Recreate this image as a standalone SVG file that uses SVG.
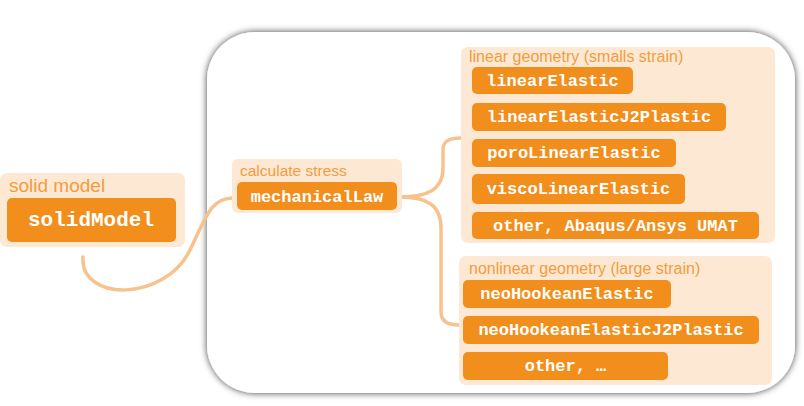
<svg xmlns="http://www.w3.org/2000/svg" width="804" height="406" viewBox="0 0 804 406">
<defs>
<filter id="sh" x="-10%" y="-10%" width="120%" height="120%">
<feDropShadow dx="0" dy="0" stdDeviation="3.5" flood-color="#000" flood-opacity="0.75"/>
</filter>
<style>
.grp{fill:#FDE9D3}
.box{fill:#F28E1C}
.lbl{font-family:"Liberation Sans",Arial,sans-serif;fill:#F39C3E}
.code{font-family:"Liberation Mono","Courier New",monospace;font-weight:bold;fill:#FFFFFF;text-anchor:middle}
.con{fill:none;stroke:#F7C28E;stroke-width:3.5;stroke-linecap:round}
</style>
</defs>
<rect width="804" height="406" fill="#FFFFFF"/>
<rect id="frame" x="207" y="32" width="588" height="361" rx="48" ry="48" fill="#FFFFFF" filter="url(#sh)"/>
<g id="connectors">
<path class="con" d="M83,257 C80,302 165,302 190,250 C208,212 212,199 232,198"/>
<path class="con" d="M400,197 C427,197 443,190 443,168 L443,150 C443,141 449,138 461,138"/>
<path class="con" d="M400,197 C427,197 441,205 441,228 L441,312 C441,321 447,325 459,325"/>
</g>
<g id="solid-model">
<rect class="grp" x="0" y="173" width="185" height="74" rx="7"/>
<text class="lbl" x="9" y="192" font-size="19">solid model</text>
<rect class="box" x="7" y="198" width="169" height="44" rx="5"/>
<text class="code" x="91" y="226" font-size="21">solidModel</text>
</g>
<g id="calculate-stress">
<rect class="grp" x="232" y="159" width="170" height="54" rx="6"/>
<text class="lbl" x="240" y="176" font-size="15.5">calculate stress</text>
<rect class="box" x="237" y="182" width="160" height="28" rx="5"/>
<text class="code" x="317" y="202" font-size="17">mechanicalLaw</text>
</g>
<g id="linear-geometry">
<rect class="grp" x="461" y="47" width="314" height="196" rx="7"/>
<text class="lbl" x="469" y="62" font-size="16">linear geometry (smalls strain)</text>
<rect class="box" x="472" y="67" width="161" height="27" rx="5"/>
<text class="code" x="552.5" y="86" font-size="17">linearElastic</text>
<rect class="box" x="472" y="103" width="254" height="28" rx="5"/>
<text class="code" x="599" y="122" font-size="17">linearElasticJ2Plastic</text>
<rect class="box" x="472" y="139" width="204" height="28" rx="5"/>
<text class="code" x="574" y="158" font-size="17">poroLinearElastic</text>
<rect class="box" x="472" y="174" width="213" height="30" rx="5"/>
<text class="code" x="578.5" y="194" font-size="17">viscoLinearElastic</text>
<rect class="box" x="472" y="212" width="287" height="27" rx="5"/>
<text class="code" x="615.5" y="231" font-size="17">other, Abaqus/Ansys UMAT</text>
</g>
<g id="nonlinear-geometry">
<rect class="grp" x="459" y="256" width="313" height="129" rx="7"/>
<text class="lbl" x="469" y="274" font-size="16">nonlinear geometry (large strain)</text>
<rect class="box" x="463" y="280" width="208" height="28" rx="5"/>
<text class="code" x="567" y="299" font-size="17">neoHookeanElastic</text>
<rect class="box" x="463" y="316" width="296" height="28" rx="5"/>
<text class="code" x="611" y="335" font-size="17">neoHookeanElasticJ2Plastic</text>
<rect class="box" x="463" y="352" width="205" height="28" rx="5"/>
<text class="code" x="565.5" y="371" font-size="17">other, …</text>
</g>
</svg>
